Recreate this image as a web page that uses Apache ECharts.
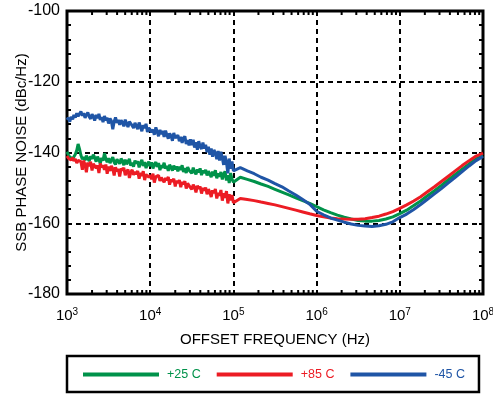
<!DOCTYPE html>
<html>
<head>
<meta charset="utf-8">
<script src="https://cdn.jsdelivr.net/npm/echarts@6/dist/echarts.min.js"></script>
<style>
html,body{margin:0;padding:0;background:#fff;}
#chart{width:493px;height:395px;}
</style>
</head>
<body>
<div id="chart"></div>
<script>
// Offset frequencies (Hz) shared by all three traces
const freqs = [
  1000,1040,1080,1120,1170,1210,1260,1310,1360,1410,1470,1530,1580,1650,1710,1780,1850,1920,2000,2070,
  2150,2240,2330,2420,2510,2610,2710,2820,2930,3040,3160,3290,3410,3550,3690,3830,3980,4140,4300,4470,
  4640,4820,5010,5210,5410,5620,5840,6070,6310,6560,6810,7080,7360,7640,7940,8250,8580,8910,9260,9620,
  10000,10400,10800,11200,11700,12100,12600,13100,13600,14100,14700,15300,15800,16500,17100,17800,18500,19200,20000,20700,
  21500,22400,23300,24200,25100,26100,27100,28200,29300,30400,31600,32900,34100,35500,36900,38300,39800,41400,43000,44700,
  46400,48200,50100,52100,54100,56200,58400,60700,63100,65600,68100,70800,73600,76400,79400,82500,85800,89100,92600,96200,
  100000,
  121000,147000,178000,215000,261000,316000,383000,464000,562000,681000,825000,
  1000000,1210000,1470000,1780000,2150000,2610000,3160000,3830000,4640000,5620000,6810000,8250000,
  10000000,12100000,14700000,17800000,21500000,26100000,31600000,38300000,46400000,56200000,68100000,82500000,100000000
];

// +25 C trace (dBc/Hz)
const green25 = [
  -139.8,-140.6,-141.3,-140.9,-141.8,-141.2,-140.5,-139.4,-137.6,-138.9,
  -140.8,-141.9,-141.3,-142.2,-140.9,-141.7,-142.4,-141.1,-141.8,-140.6,
  -141.4,-142.6,-141.2,-142.0,-143.1,-141.5,-142.3,-140.2,-141.8,-142.7,
  -141.6,-143.0,-142.1,-141.3,-142.8,-143.4,-141.9,-142.5,-143.2,-141.7,
  -142.4,-143.6,-142.0,-143.3,-142.6,-141.8,-143.7,-142.9,-144.0,-142.3,
  -143.1,-142.5,-144.2,-143.0,-142.1,-143.8,-142.7,-144.4,-143.3,-142.6,
  -143.9,-142.8,-144.5,-143.4,-142.7,-144.1,-143.0,-145.0,-143.6,-144.3,
  -142.9,-144.6,-143.8,-145.2,-143.5,-144.2,-145.1,-143.7,-144.8,-143.9,
  -145.3,-144.0,-144.9,-143.6,-145.5,-144.4,-145.8,-144.1,-145.0,-144.6,
  -145.9,-144.3,-145.4,-146.2,-144.8,-145.6,-144.5,-146.4,-145.1,-145.8,
  -144.9,-146.5,-145.3,-146.1,-147.0,-145.4,-146.6,-145.0,-147.3,-145.9,
  -146.8,-145.5,-147.6,-146.2,-145.3,-147.9,-146.4,-148.6,-145.8,-147.5,
  -148.4,
  -147.0,-147.6,-148.2,-148.9,-149.6,-150.4,-151.2,-152.0,-152.8,-153.6,
  -154.4,-155.3,-156.2,-157.0,-157.7,-158.3,-158.8,-159.2,-159.4,-159.4,
  -159.2,-158.8,-158.2,-157.3,-156.3,-155.0,-153.7,-152.2,-150.8,-149.3,
  -147.7,-146.2,-144.7,-143.2,-141.8,-140.9
];

// +85 C trace (dBc/Hz)
const red85 = [
  -141.0,-141.6,-141.2,-142.1,-141.5,-142.4,-141.8,-143.0,-142.2,-141.7,
  -142.6,-144.9,-142.3,-143.5,-145.6,-142.8,-143.9,-142.6,-145.1,-143.2,
  -143.0,-144.4,-143.7,-145.8,-143.1,-144.2,-143.6,-144.9,-143.4,-146.0,
  -144.0,-145.2,-143.8,-144.6,-146.5,-144.2,-145.3,-144.7,-146.8,-144.5,
  -145.1,-144.3,-146.4,-145.4,-144.8,-147.2,-145.6,-144.9,-146.3,-145.5,
  -146.1,-145.2,-147.4,-145.8,-146.6,-145.3,-147.8,-146.2,-145.7,-147.0,
  -146.4,-147.6,-146.0,-148.5,-146.8,-147.3,-146.5,-148.0,-147.1,-146.7,
  -148.4,-147.2,-147.9,-146.9,-149.1,-147.6,-148.3,-147.4,-149.6,-148.0,
  -148.6,-147.8,-149.8,-148.3,-149.0,-148.1,-150.2,-148.7,-149.4,-148.9,
  -150.4,-149.1,-149.8,-151.3,-149.4,-150.2,-149.6,-151.6,-150.0,-150.8,
  -149.9,-151.8,-150.4,-151.2,-152.6,-150.7,-151.5,-150.3,-153.0,-151.4,
  -152.2,-150.6,-153.6,-151.5,-152.8,-150.9,-154.4,-151.8,-153.5,-152.0,
  -154.2,
  -153.0,-153.3,-153.6,-154.0,-154.4,-154.8,-155.3,-155.8,-156.3,-156.8,
  -157.3,-157.8,-158.2,-158.5,-158.7,-158.8,-158.9,-158.9,-158.7,-158.4,
  -158.0,-157.4,-156.7,-155.8,-154.8,-153.7,-152.5,-151.1,-149.7,-148.2,
  -146.7,-145.2,-143.7,-142.3,-141.0,-140.2
];

// -45 C trace (dBc/Hz)
const blue45 = [
  -130.8,-130.2,-131.3,-129.9,-130.6,-129.4,-130.1,-128.9,-129.8,-129.1,
  -128.4,-129.6,-128.9,-130.2,-129.3,-128.7,-129.9,-130.5,-129.2,-129.8,
  -131.0,-129.4,-130.3,-129.1,-130.8,-130.0,-131.4,-129.7,-130.9,-130.2,
  -131.8,-130.4,-131.0,-133.4,-131.2,-130.1,-131.6,-130.8,-132.2,-130.9,
  -131.5,-132.6,-130.7,-131.9,-132.8,-131.3,-130.9,-132.4,-133.1,-131.6,
  -132.0,-133.4,-131.5,-132.7,-134.0,-132.3,-133.1,-131.9,-134.2,-133.0,
  -132.6,-134.3,-133.5,-135.0,-132.9,-134.1,-135.4,-133.6,-134.8,-133.9,
  -135.6,-133.8,-134.9,-136.1,-134.6,-135.3,-136.7,-134.5,-135.9,-136.4,
  -135.1,-136.8,-135.6,-137.3,-136.0,-135.4,-137.6,-136.5,-138.0,-136.3,
  -137.9,-136.4,-138.6,-137.1,-139.2,-136.8,-138.3,-139.0,-137.2,-138.9,
  -137.8,-139.9,-138.4,-140.6,-138.9,-141.2,-139.3,-140.1,-141.9,-139.6,
  -142.3,-139.8,-141.6,-143.5,-140.9,-142.8,-145.9,-141.7,-144.6,-142.5,
  -145.2,
  -144.3,-145.2,-146.0,-147.0,-147.8,-148.8,-149.7,-150.9,-152.0,-153.3,
  -154.6,-156.6,-157.6,-158.5,-159.1,-159.7,-160.2,-160.6,-160.8,-160.9,
  -160.7,-160.3,-159.6,-158.4,-157.4,-156.1,-154.7,-153.2,-151.7,-150.2,
  -148.6,-147.0,-145.4,-143.8,-142.3,-141.1
];

const seriesNames = ['+25 C', '+85 C', '-45 C'];
const xTickExponents = ['3', '4', '5', '6', '7', '8'];
const yTicks = [-180, -160, -140, -120, -100];

const colors = {'+25 C': '#00924a', '+85 C': '#ec1c24', '-45 C': '#1f55a6'};
const FONT = '"Liberation Sans", Arial, Helvetica, sans-serif';

function pairs(vals) { return freqs.map((f, i) => [f, vals[i]]); }

// log-axis minor tick positions (2..9 x each decade)
const minorFreqs = [];
for (let e = 3; e < 8; e++) for (let m = 2; m <= 9; m++) minorFreqs.push([m * Math.pow(10, e)]);

const chart = echarts.init(document.getElementById('chart'), null, {renderer: 'canvas'});

const dashed = {color: '#000', width: 2, type: [5, 4]};

const option = {
  animation: false,
  backgroundColor: '#fff',
  textStyle: {fontFamily: FONT},
  grid: {left: 67, right: 10, top: 11, bottom: 101, show: true, borderColor: '#000', borderWidth: 3,
         backgroundColor: 'transparent', containLabel: false, outerBoundsMode: 'none'},
  legend: {
    left: 67, top: 356,
    padding: [12, 14, 11, 16],
    borderColor: '#000', borderWidth: 2.5,
    itemWidth: 76, itemHeight: 4, itemGap: 16,
    icon: 'rect',
    data: seriesNames.map(n => ({name: n, icon: 'rect', textStyle: {color: colors[n]}})),
    textStyle: {fontSize: 12.5, fontFamily: FONT, padding: [0, 0, 0, 3]}
  },
  xAxis: [{
    type: 'log', logBase: 10, min: 1000, max: 100000000,
    name: 'OFFSET FREQUENCY (Hz)', nameLocation: 'middle', nameGap: 38, nameMoveOverlap: false,
    nameTextStyle: {fontSize: 15, color: '#000', fontFamily: FONT},
    axisLine: {show: false},
    axisTick: {show: false},
    splitLine: {show: true, lineStyle: dashed},
    axisLabel: {
      margin: 13, color: '#000',
      formatter: function (v) {
        const e = Math.round(Math.log10(v));
        const exp = xTickExponents.find(s => +s === e) || String(e);
        return '{b|10}{s|' + exp + '}';
      },
      rich: {
        b: {fontSize: 15, fontFamily: FONT, color: '#000'},
        s: {fontSize: 10, fontFamily: FONT, color: '#000', padding: [0, 0, 8, 0]}
      }
    }
  }],
  yAxis: [{
    type: 'value', min: yTicks[0], max: yTicks[yTicks.length - 1], interval: 20,
    name: 'SSB PHASE NOISE (dBc/Hz)', nameLocation: 'middle', nameGap: 38, nameMoveOverlap: false,
    nameTextStyle: {fontSize: 15, color: '#000', fontFamily: FONT},
    axisLine: {show: false},
    axisTick: {show: true, inside: true, length: 4, lineStyle: {color: '#000', width: 2}},
    minorTick: {show: true, splitNumber: 5, length: 4, lineStyle: {color: '#000', width: 2}},
    splitLine: {show: true, lineStyle: dashed},
    axisLabel: {fontSize: 16, color: '#000', margin: 7, fontFamily: FONT}
  }, {
    type: 'value', position: 'right', min: yTicks[0], max: yTicks[yTicks.length - 1], interval: 20,
    axisLine: {show: false},
    axisTick: {show: true, inside: true, length: 4, lineStyle: {color: '#000', width: 2}},
    minorTick: {show: true, splitNumber: 5, length: 4, lineStyle: {color: '#000', width: 2}},
    splitLine: {show: false},
    axisLabel: {show: false}
  }],
  series: [
    {name: '+25 C', type: 'line', data: pairs(green25), showSymbol: false, symbol: 'none',
     lineStyle: {color: colors['+25 C'], width: 3}, itemStyle: {color: colors['+25 C']}, z: 3},
    {name: '+85 C', type: 'line', data: pairs(red85), showSymbol: false, symbol: 'none',
     lineStyle: {color: colors['+85 C'], width: 3}, itemStyle: {color: colors['+85 C']}, z: 4},
    {name: '-45 C', type: 'line', data: pairs(blue45), showSymbol: false, symbol: 'none',
     lineStyle: {color: colors['-45 C'], width: 3}, itemStyle: {color: colors['-45 C']}, z: 5},
    {name: 'minorTicks', type: 'custom', data: minorFreqs, silent: true, z: 6,
     renderItem: function (params, api) {
       const pb = api.coord([api.value(0), -180]);
       const pt = api.coord([api.value(0), -100]);
       const st = {stroke: '#000', lineWidth: 2};
       return {type: 'group', children: [
         {type: 'line', shape: {x1: pb[0], y1: pb[1], x2: pb[0], y2: pb[1] - 4}, style: st},
         {type: 'line', shape: {x1: pt[0], y1: pt[1], x2: pt[0], y2: pt[1] + 4}, style: st}
       ]};
     }}
  ]
};
chart.setOption(option);
</script>
</body>
</html>
